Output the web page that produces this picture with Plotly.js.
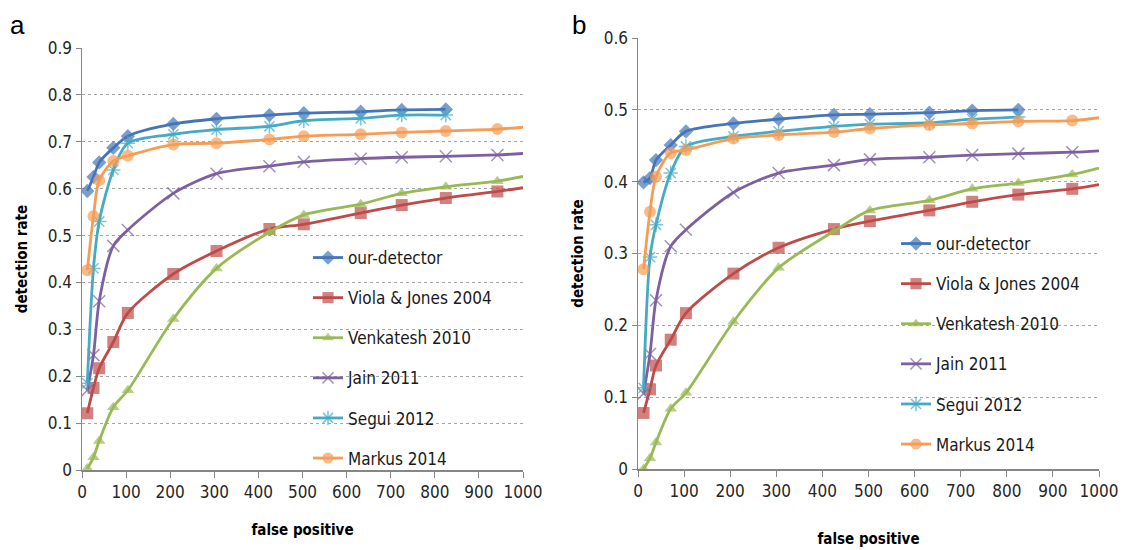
<!DOCTYPE html>
<html><head><meta charset="utf-8">
<script src="https://cdn.plot.ly/plotly-3.0.1.min.js"></script>
<style>html,body{margin:0;padding:0;background:#fff}#chart{width:1124px;height:550px}</style>
</head><body><div id="chart"></div>
<script>
// ---- data ----
const seriesNames = ["our-detector","Viola & Jones 2004","Venkatesh 2010","Jain 2011","Segui 2012","Markus 2014"];
const xShort = [12, 26, 39, 71, 104, 207, 305, 425, 503, 632, 725, 825];
const xLong  = [12, 26, 39, 71, 104, 207, 305, 425, 503, 632, 725, 825, 942, 1000];

// panel a
const aOur    = [0.595, 0.625, 0.656, 0.687, 0.712, 0.738, 0.749, 0.757, 0.761, 0.764, 0.768, 0.769];
const aViola  = [0.121, 0.175, 0.217, 0.273, 0.335, 0.418, 0.467, 0.514, 0.524, 0.548, 0.565, 0.580, 0.594, 0.602];
const aVenk   = [0.003, 0.027, 0.062, 0.134, 0.170, 0.322, 0.430, 0.507, 0.544, 0.567, 0.590, 0.604, 0.616, 0.626];
const aJain   = [0.170, 0.245, 0.360, 0.478, 0.512, 0.590, 0.632, 0.648, 0.657, 0.664, 0.667, 0.669, 0.672, 0.675];
const aSegui  = [0.185, 0.430, 0.530, 0.640, 0.697, 0.716, 0.726, 0.733, 0.745, 0.750, 0.757, 0.757];
const aMarkus = [0.426, 0.541, 0.618, 0.659, 0.670, 0.694, 0.697, 0.705, 0.712, 0.716, 0.720, 0.723, 0.727, 0.731];

// panel b
const bOur    = [0.399, 0.405, 0.430, 0.451, 0.470, 0.481, 0.487, 0.493, 0.494, 0.496, 0.499, 0.500];
const bViola  = [0.078, 0.111, 0.144, 0.180, 0.217, 0.272, 0.308, 0.334, 0.345, 0.360, 0.372, 0.382, 0.390, 0.396];
const bVenk   = [0.000, 0.015, 0.037, 0.084, 0.106, 0.205, 0.280, 0.331, 0.360, 0.374, 0.390, 0.398, 0.410, 0.419];
const bJain   = [0.105, 0.160, 0.235, 0.310, 0.333, 0.385, 0.412, 0.423, 0.431, 0.434, 0.437, 0.439, 0.441, 0.443];
const bSegui  = [0.113, 0.295, 0.340, 0.412, 0.449, 0.463, 0.470, 0.477, 0.480, 0.482, 0.487, 0.490];
const bMarkus = [0.278, 0.358, 0.407, 0.440, 0.444, 0.460, 0.465, 0.469, 0.474, 0.479, 0.481, 0.484, 0.485, 0.489];

const xTicks = [0,100,200,300,400,500,600,700,800,900,1000];

// ---- styles ----
const colors = ["#4575B8","#BE4B48","#98B954","#7D60A0","#46AAC5","#F59D56"];
const symbols = ["diamond","square","triangle-up","x-thin-open","asterisk-open","circle"];
const sizes = [11, 12, 11, 12, 12, 12];
const FONT = "'DejaVu Sans Condensed', 'Liberation Sans Narrow', sans-serif";

function sizeArr(n, s, long) { const a = new Array(n).fill(s); if (long) a[n-1] = 0; return a; }

function makeTrace(i, x, y, panel) {
  const long = x.length === xLong.length;
  const thin = symbols[i].indexOf("open") >= 0;
  return {
    type: "scatter", mode: "lines+markers", name: seriesNames[i],
    x: x, y: y,
    xaxis: panel === 1 ? "x" : "x2", yaxis: panel === 1 ? "y" : "y2",
    legend: panel === 1 ? "legend" : "legend2",
    legendgroup: "p" + panel + "s" + i,
    line: {color: colors[i], width: 2.8, shape: "spline", smoothing: 0.8},
    marker: {symbol: symbols[i], size: sizeArr(x.length, sizes[i], long), color: colors[i],
             line: {color: colors[i], width: thin ? 1.5 : 0}},
    cliponaxis: true
  };
}

const traces = [];
const aData = [aOur, aViola, aVenk, aJain, aSegui, aMarkus];
const bData = [bOur, bViola, bVenk, bJain, bSegui, bMarkus];
aData.forEach((y, i) => traces.push(makeTrace(i, y.length === xLong.length ? xLong : xShort, y, 1)));
bData.forEach((y, i) => traces.push(makeTrace(i, y.length === xLong.length ? xLong : xShort, y, 2)));

const tickFont = {family: FONT, size: 17, color: "#262626"};
const titleFont = {family: FONT, size: 15, color: "#000", weight: "bold"};

function xAxis(domain, anchor, standoff) {
  return {domain: domain, anchor: anchor, range: [0, 1000], tickvals: xTicks, showgrid: false,
    zeroline: false, showline: true, linecolor: "#868686", linewidth: 1.5,
    ticks: "outside", ticklen: 6, tickcolor: "#868686", tickfont: tickFont,
    title: {text: "false positive", font: titleFont, standoff: standoff}};
}
function yAxis(domain, anchor, max) {
  return {domain: domain, anchor: anchor, range: [0, max], dtick: 0.1, tick0: 0,
    showgrid: true, gridcolor: "#a6a6a6", griddash: "dot", gridwidth: 1,
    zeroline: false, showline: true, linecolor: "#868686", linewidth: 1.5,
    ticks: "outside", ticklen: 5, tickcolor: "#868686", tickfont: tickFont,
    title: {text: "detection rate", font: titleFont, standoff: 16}};
}

const legendBase = {font: {family: FONT, size: 17, color: "#1a1a1a"}, bgcolor: "rgba(0,0,0,0)",
  borderwidth: 0, tracegroupgap: 15, itemwidth: 30, xanchor: "left", yanchor: "top"};

const layout = {
  width: 1124, height: 550,
  margin: {l: 0, r: 0, t: 0, b: 0},
  paper_bgcolor: "#fff", plot_bgcolor: "#fff",
  showlegend: true,
  xaxis: xAxis([82/1124, 523/1124], "y", 23),
  yaxis: yAxis([(550-470)/550, (550-48)/550], "x", 0.9),
  xaxis2: xAxis([638/1124, 1099/1124], "y2", 33),
  yaxis2: yAxis([(550-469)/550, (550-38)/550], "x2", 0.6),
  legend: Object.assign({}, legendBase, {x: 308/1124, y: (550-240)/550}),
  legend2: Object.assign({}, legendBase, {x: 896/1124, y: (550-226)/550}),
  annotations: [
    {text: "a", x: 8/1124, y: (550-8)/550, xref: "paper", yref: "paper", xanchor: "left", yanchor: "top",
     showarrow: false, font: {family: "Liberation Sans, Arial, sans-serif", size: 26, color: "#000"}},
    {text: "b", x: 570/1124, y: (550-8)/550, xref: "paper", yref: "paper", xanchor: "left", yanchor: "top",
     showarrow: false, font: {family: "Liberation Sans, Arial, sans-serif", size: 26, color: "#000"}}
  ]
};

Plotly.newPlot("chart", traces, layout, {displayModeBar: false, staticPlot: true});
</script></body></html>
